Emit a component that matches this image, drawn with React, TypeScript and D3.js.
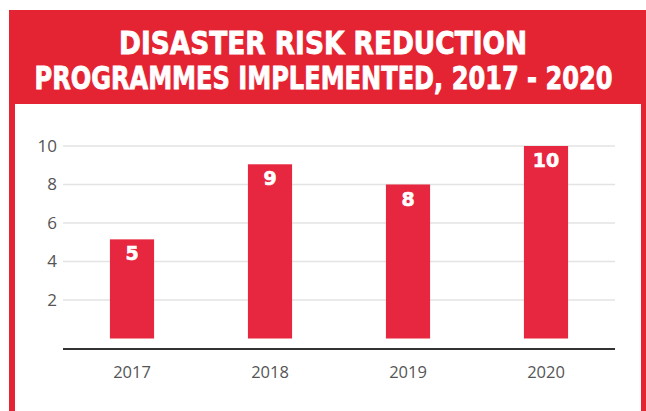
import React from "react";
import * as d3 from "d3";

const years = ["2017", "2018", "2019", "2020"];
const values = [5.15, 9.05, 8, 10];
const valueLabels = ["5", "9", "8", "10"];
const yTicks = [2, 4, 6, 8, 10];
const titleLines = ["DISASTER RISK REDUCTION", "PROGRAMMES IMPLEMENTED, 2017 - 2020"];

const W = 646;
const H = 411;
const RED = "#e42433";
const BAR = "#e7263f";

export default function App() {
  const x = d3.scaleBand<string>().domain(years).range([63, 615]).paddingInner(0.68).paddingOuter(0.34);
  const y = d3.scaleLinear().domain([0, 10]).range([338.5, 146]);
  const font = "'Open Sans', 'DejaVu Sans', sans-serif";
  const boldFont = "'DejaVu Sans', 'Open Sans', sans-serif";
  return (
    <svg width={W} height={H} style={{ position: "fixed", left: 0, top: 0 }} fontFamily={font}>
      <rect x={0} y={0} width={W} height={H} fill="#fff" />
      {/* frame */}
      <rect x={9} y={10} width={W - 9} height={H - 10} fill={RED} />
      <rect x={15} y={104} width={641 - 15} height={H - 104} fill="#fff" />
      {/* title */}
      <text x={323} y={54} textAnchor="middle" fill="#fff" stroke="#fff" strokeWidth={0.9} fontSize={32} fontWeight={700} fontFamily={boldFont}
        textLength={408} lengthAdjust="spacingAndGlyphs">{titleLines[0]}</text>
      <text x={323.5} y={89} textAnchor="middle" fill="#fff" stroke="#fff" strokeWidth={0.9} fontSize={32} fontWeight={700} fontFamily={boldFont}
        textLength={578} lengthAdjust="spacingAndGlyphs">{titleLines[1]}</text>
      {/* grid */}
      {yTicks.map((t) => (
        <g key={t}>
          <line x1={63} x2={615} y1={y(t)} y2={y(t)} stroke="#e3e3e3" strokeWidth={1.5} />
          <text x={57} y={y(t)} dy="0.35em" textAnchor="end" fontSize={17} fill="#555" fontWeight={400}>{t}</text>
        </g>
      ))}
      {/* bars */}
      {years.map((yr, i) => (
        <g key={yr}>
          <rect x={x(yr)} y={y(values[i])} width={x.bandwidth()} height={y(0) - y(values[i])} fill={BAR} />
          <text x={(x(yr) as number) + x.bandwidth() / 2} y={y(values[i]) + 21} textAnchor="middle"
            fill="#fff" stroke="#fff" strokeWidth={0.6} fontSize={19} fontWeight={700} fontFamily={boldFont}>{valueLabels[i]}</text>
          <text x={(x(yr) as number) + x.bandwidth() / 2} y={378} textAnchor="middle"
            fill="#555" fontSize={16.5}>{yr}</text>
        </g>
      ))}
      <line x1={63} x2={615} y1={349} y2={349} stroke="#333" strokeWidth={2} />
    </svg>
  );
}
